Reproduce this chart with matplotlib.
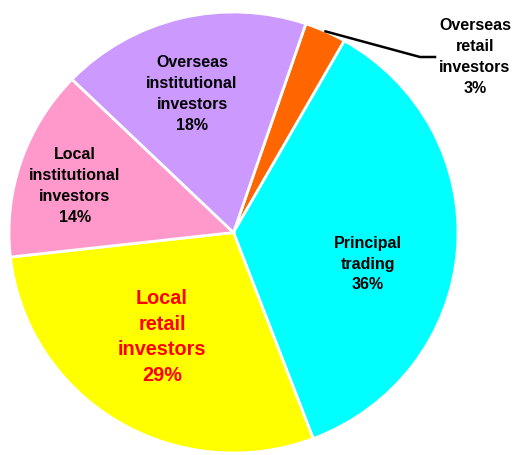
import matplotlib
matplotlib.use('Agg')
import matplotlib.pyplot as plt
import numpy as np

plt.rcParams['font.family'] = ['Liberation Sans', 'DejaVu Sans']

# 数据
labels = ['Overseas\nretail\ninvestors', 'Principal\ntrading', 'Local\nretail\ninvestors',
          'Local\ninstitutional\ninvestors', 'Overseas\ninstitutional\ninvestors']
shares = [3, 36, 29, 14, 18]
colors = ['#FF6600', '#00FFFF', '#FFFF00', '#FF99CC', '#CC99FF']

W, H = 512, 455
fig = plt.figure(figsize=(W / 100, H / 100), dpi=100)
# 饼图所在区域（像素）
left, right, top, bottom = 9, 458, 12, 453
ax = fig.add_axes([left / W, 1 - bottom / H, (right - left) / W, (bottom - top) / H])
cx, cy = (left + right) / 2, (top + bottom) / 2
rx, ry = (right - left) / 2, (bottom - top) / 2


def to_data(px, py):
    return (px - cx) / rx, (cy - py) / ry


wedges, _ = ax.pie(shares, colors=colors, startangle=71.2, counterclock=False,
                   wedgeprops=dict(edgecolor='white', linewidth=2), radius=1)
ax.set_xlim(-1, 1)
ax.set_ylim(-1, 1)
ax.set_aspect('auto')
ax.axis('off')

# 标签位置（像素）
pos = [None, (368, 264), (162, 337), (75, 186), (192, 94)]
for i, (lab, s) in enumerate(zip(labels, shares)):
    if pos[i] is None:
        continue
    x, y = to_data(*pos[i])
    if i == 2:
        ax.text(x, y, f'{lab}\n{s}%', ha='center', va='center', color='red',
                fontsize=14.3, fontweight='bold', linespacing=1.44)
    else:
        ax.text(x, y, f'{lab}\n{s}%', ha='center', va='center', color='black',
                fontsize=11.5, fontweight='bold', linespacing=1.49)

# 海外散户：外部标签与引线
w = wedges[0]
mid = np.deg2rad((w.theta1 + w.theta2) / 2)
x0, y0 = np.cos(mid), np.sin(mid)
xk, yk = to_data(420, 57)
xe, ye = to_data(435, 57)
ax.plot([x0, xk, xe], [y0, yk, ye], color='black', lw=1.8, clip_on=False)
tx, ty = to_data(475, 57)
ax.text(tx, ty, f'{labels[0]}\n{shares[0]}%', ha='center', va='center',
        fontsize=11.5, fontweight='bold', linespacing=1.49, clip_on=False)

fig.savefig('out.png', dpi=100)
